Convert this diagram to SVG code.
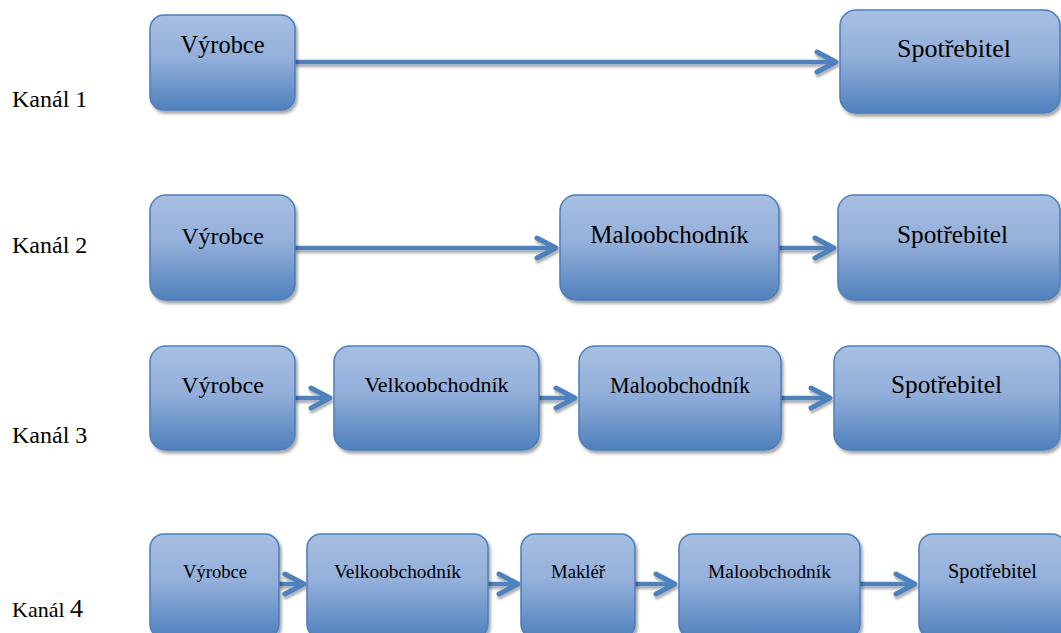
<svg xmlns="http://www.w3.org/2000/svg" width="1061" height="633" viewBox="0 0 1061 633">
<defs>
<linearGradient id="g" x1="0" y1="0" x2="0" y2="1">
<stop offset="0" stop-color="#a7bfe1"/>
<stop offset="0.45" stop-color="#93afda"/>
<stop offset="1" stop-color="#4f81bd"/>
</linearGradient>
<filter id="sh" x="-10%" y="-10%" width="125%" height="130%">
<feDropShadow dx="2" dy="3" stdDeviation="1.5" flood-color="#000" flood-opacity="0.35"/>
</filter>
<filter id="ash" x="-5%" y="-100%" width="110%" height="300%">
<feDropShadow dx="1" dy="3" stdDeviation="1" flood-color="#000" flood-opacity="0.3"/>
</filter>
<marker id="arr" markerUnits="userSpaceOnUse" markerWidth="40" markerHeight="40" viewBox="-30 -20 40 40" refX="0" refY="0" orient="auto" overflow="visible">
<path d="M-19,-10 L0,0 L-19,10" fill="none" stroke="#4f81bd" stroke-width="5" stroke-linecap="round" stroke-linejoin="round"/>
</marker>
</defs>
<style>
.box{fill:url(#g);stroke:#4a7ebb;stroke-width:1.5;filter:url(#sh)}
.t{font-family:"Liberation Serif","Times New Roman",serif;fill:#000;text-anchor:middle}
.k{font-family:"Liberation Serif","Times New Roman",serif;fill:#000;font-size:24px}
.c{fill:none;stroke:#4f81bd;stroke-width:4.5;marker-end:url(#arr)}
</style>
<rect width="1061" height="633" fill="#fff"/>

<g id="labels">
<text class="k" x="12" y="107">Kanál 1</text>
<text class="k" x="12" y="253">Kanál 2</text>
<text class="k" x="12" y="443">Kanál 3</text>
<text class="k" x="12" y="617" style="font-size:22px">Kanál <tspan style="font-size:26px">4</tspan></text>
</g>

<g id="connectors" filter="url(#ash)">
<line class="c" x1="295" y1="62" x2="836" y2="62"/>
<line class="c" x1="295" y1="248" x2="556" y2="248"/>
<line class="c" x1="779" y1="248" x2="834" y2="248"/>
<line class="c" x1="295" y1="398" x2="330" y2="398"/>
<line class="c" x1="539" y1="398" x2="575" y2="398"/>
<line class="c" x1="781" y1="398" x2="830" y2="398"/>
<line class="c" x1="279" y1="584" x2="304" y2="584"/>
<line class="c" x1="488" y1="584" x2="518" y2="584"/>
<line class="c" x1="635" y1="584" x2="675" y2="584"/>
<line class="c" x1="860" y1="584" x2="915" y2="584"/>
</g>

<g id="r1-vyrobce"><rect class="box" x="150" y="15" width="145" height="95" rx="14"/><text class="t" x="222.5" y="53" font-size="24.4">Výrobce</text></g>
<g id="r1-spotrebitel"><rect class="box" x="840" y="10" width="220" height="103" rx="16"/><text class="t" x="954" y="57" font-size="26">Spotřebitel</text></g>

<g id="r2-vyrobce"><rect class="box" x="150" y="195" width="145" height="105" rx="16"/><text class="t" x="222.5" y="244" font-size="24">Výrobce</text></g>
<g id="r2-maloobchodnik"><rect class="box" x="560" y="195" width="219" height="105" rx="16"/><text class="t" x="669.5" y="243" font-size="25">Maloobchodník</text></g>
<g id="r2-spotrebitel"><rect class="box" x="838" y="195" width="222" height="105" rx="16"/><text class="t" x="952.5" y="243" font-size="25.3">Spotřebitel</text></g>

<g id="r3-vyrobce"><rect class="box" x="150" y="346" width="145" height="104" rx="16"/><text class="t" x="222.5" y="393" font-size="24">Výrobce</text></g>
<g id="r3-velkoobchodnik"><rect class="box" x="334" y="346" width="205" height="104" rx="16"/><text class="t" x="436.5" y="392" font-size="22">Velkoobchodník</text></g>
<g id="r3-maloobchodnik"><rect class="box" x="579" y="346" width="202" height="104" rx="16"/><text class="t" x="680" y="393" font-size="22.1">Maloobchodník</text></g>
<g id="r3-spotrebitel"><rect class="box" x="834" y="346" width="226" height="104" rx="16"/><text class="t" x="946.5" y="393" font-size="25.3">Spotřebitel</text></g>

<g id="r4-vyrobce"><rect class="box" x="150" y="534" width="129" height="104" rx="14"/><text class="t" x="215" y="578" font-size="18.6">Výrobce</text></g>
<g id="r4-velkoobchodnik"><rect class="box" x="307" y="534" width="181" height="104" rx="14"/><text class="t" x="397.5" y="578" font-size="19.4">Velkoobchodník</text></g>
<g id="r4-makler"><rect class="box" x="521" y="534" width="114" height="104" rx="14"/><text class="t" x="578" y="578" font-size="18.7">Makléř</text></g>
<g id="r4-maloobchodnik"><rect class="box" x="679" y="534" width="181" height="104" rx="14"/><text class="t" x="769.5" y="578" font-size="19.4">Maloobchodník</text></g>
<g id="r4-spotrebitel"><rect class="box" x="919" y="534" width="147" height="104" rx="14"/><text class="t" x="992.5" y="578" font-size="20.3">Spotřebitel</text></g>
</svg>
